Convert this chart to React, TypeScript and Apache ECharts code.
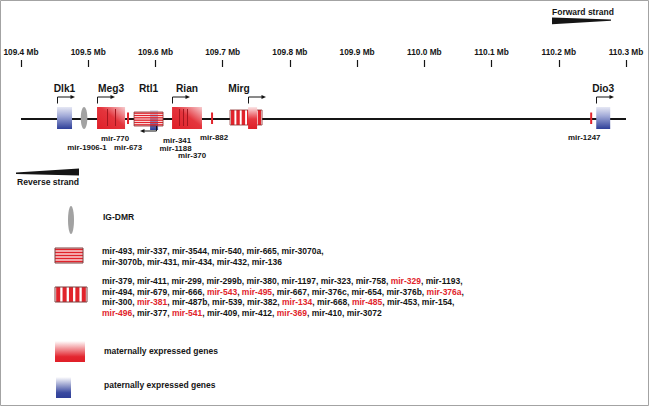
import { useEffect, useRef } from 'react';
import * as echarts from 'echarts';

// ---------- data ----------
const axisMin = 109.4;
const axisMax = 110.3;
const axisStep = 0.1;

const geneNames = ['Dlk1', 'Meg3', 'Rtl1', 'Rian', 'Mirg', 'Dio3'];
const geneStart = [109.4536, 109.5131, 109.5682, 109.6247, 109.711, 110.2557];
const geneEnd = [109.4759, 109.5548, 109.6113, 109.6693, 109.7586, 110.2765];
const geneKind = ['paternal', 'maternal', 'clusterH', 'maternal', 'clusterV', 'paternal'];
const geneStrand = ['+', '+', '-', '+', '+', '+'];
const geneCoreStart = [null, null, 109.592, null, 109.7378, null];
const geneCoreEnd = [null, null, 109.6039, null, 109.7512, null];
const geneMirMarks = [[], [109.528, 109.540], [], [109.6351, 109.6411, 109.647], [], []];

const dmrPos = 109.4938;

const mirTickNames = ['mir-673', 'mir-882', 'mir-1247'];
const mirTickPos = [109.5592, 109.6842, 110.2482];

const mirLabelNames = ['mir-770', 'mir-1906-1', 'mir-673', 'mir-341', 'mir-1188', 'mir-370', 'mir-882', 'mir-1247'];
const mirLabelPos = [109.5399, 109.4982, 109.5592, 109.6321, 109.6299, 109.6545, 109.6872, 110.2378];

const clusterHMirs = ['mir-493', 'mir-337', 'mir-3544', 'mir-540', 'mir-665', 'mir-3070a', 'mir-3070b', 'mir-431', 'mir-434', 'mir-432', 'mir-136'];
const clusterVMirs = [
  'mir-379', 'mir-411', 'mir-299', 'mir-299b', 'mir-380', 'mir-1197', 'mir-323', 'mir-758', 'mir-329', 'mir-1193',
  'mir-494', 'mir-679', 'mir-666', 'mir-543', 'mir-495', 'mir-667', 'mir-376c', 'mir-654', 'mir-376b', 'mir-376a',
  'mir-300', 'mir-381', 'mir-487b', 'mir-539', 'mir-382', 'mir-134', 'mir-668', 'mir-485', 'mir-453', 'mir-154',
  'mir-496', 'mir-377', 'mir-541', 'mir-409', 'mir-412', 'mir-369', 'mir-410', 'mir-3072',
];
const highlightedMirs = ['mir-329', 'mir-543', 'mir-495', 'mir-376a', 'mir-381', 'mir-134', 'mir-485', 'mir-496', 'mir-541', 'mir-369'];
const legendLabels = ['IG-DMR', 'maternally expressed genes', 'paternally expressed genes'];
const strandLabels = ['Forward strand', 'Reverse strand'];

// ---------- layout / style ----------
const clusterHLineSizes = [6, 5];
const clusterVLineSizes = [10, 10, 10, 8];
const geneLabelDx = [0, 0, 0, 0, -7, 0];
const mirLabelRow = [138, 147, 147, 140.5, 148, 155.5, 137, 137];

const FONT = '"Liberation Sans", Arial, Helvetica, sans-serif';
const INK = '#151515';
const RED = '#e1232b';
const DARK_RED = '#a5161e';
const BORDER_RED = '#8a2e2e';
const LINE_Y = 119;
const GENE_TOP = 107;
const GENE_BOT = 129;

const matGrad = () =>
  new echarts.graphic.LinearGradient(0, 1, 1, 0, [
    { offset: 0, color: '#df1f28' },
    { offset: 0.55, color: '#e4353d' },
    { offset: 1, color: '#f7cdd0' },
  ]);
const matGradV = () =>
  new echarts.graphic.LinearGradient(0, 0, 0, 1, [
    { offset: 0, color: '#fbe6e7' },
    { offset: 0.55, color: '#e6363e' },
    { offset: 1, color: '#dd1e27' },
  ]);
const patGrad = () =>
  new echarts.graphic.LinearGradient(0, 0, 0, 1, [
    { offset: 0, color: '#e6e8f4' },
    { offset: 0.4, color: '#a3abd8' },
    { offset: 1, color: '#2e3f99' },
  ]);

function hStripes(x: number, y: number, w: number, h: number, n: number, color: string) {
  const p = h / n;
  const out: any[] = [];
  for (let k = 0; k < n; k++) {
    out.push({ type: 'rect', shape: { x, y: y + k * p + p * 0.2, width: w, height: p * 0.6 }, style: { fill: color } });
  }
  return out;
}
function vStripes(x: number, y: number, w: number, h: number, n: number, color: string) {
  const p = w / n;
  const out: any[] = [];
  for (let k = 0; k < n; k++) {
    out.push({ type: 'rect', shape: { x: x + k * p + p * 0.18, y, width: p * 0.64, height: h }, style: { fill: color } });
  }
  return out;
}

function richLines(names: string[], sizes: number[]) {
  const red = new Set(highlightedMirs);
  const lines: string[] = [];
  let idx = 0;
  sizes.forEach((s, li) => {
    const part = names.slice(idx, idx + s);
    idx += s;
    const toks = part.map((n) => (red.has(n) ? `{r|${n}}` : `{k|${n}}`));
    let line = toks.join('{k|, }');
    if (li < sizes.length - 1) line += '{k|,}';
    lines.push(line);
  });
  return lines.join('\n');
}

export default function App() {
  const ref = useRef<HTMLDivElement>(null);

  useEffect(() => {
    const chart = echarts.init(ref.current!, null, { renderer: 'svg' });
    const txt = (size: number) => ({ fontSize: size, fontWeight: 'bold', fontFamily: FONT, fill: INK });

    const richStyle = (lh: number) => ({
      k: { fontSize: 8.5, fontWeight: 'bold', fontFamily: FONT, fill: INK, lineHeight: lh },
      r: { fontSize: 8.5, fontWeight: 'bold', fontFamily: FONT, fill: RED, lineHeight: lh },
    });

    const option: any = {
      animation: false,
      backgroundColor: '#ffffff',
      grid: { left: 21, right: 23, top: 67, bottom: 10, outerBoundsMode: 'none' },
      xAxis: {
        type: 'value',
        position: 'top',
        min: axisMin,
        max: axisMax,
        interval: axisStep,
        axisLine: { show: false, onZero: false },
        splitLine: { show: false },
        axisTick: { show: true, length: 7, lineStyle: { color: INK, width: 1.2 } },
        axisLabel: {
          margin: 11,
          showMinLabel: true,
          showMaxLabel: true,
          formatter: (v: number) => v.toFixed(1) + ' Mb',
          fontSize: 8.3,
          fontWeight: 'bold',
          fontFamily: FONT,
          color: INK,
        },
      },
      yAxis: { type: 'value', min: 0, max: 10, show: false },
      series: [
        {
          type: 'custom',
          name: 'chromosome',
          z: 1,
          clip: false,
          encode: { x: [0, 1], y: 2 },
          data: [[axisMin, axisMax, 0]],
          renderItem: (_p: any, api: any) => {
            const x0 = api.coord([api.value(0), 0])[0];
            const x1 = api.coord([api.value(1), 0])[0];
            return { type: 'line', shape: { x1: x0, y1: LINE_Y, x2: x1, y2: LINE_Y }, style: { stroke: INK, lineWidth: 2 } };
          },
        },
        {
          type: 'custom',
          name: 'IG-DMR',
          z: 2,
          clip: false,
          encode: { x: [0, 1], y: 2 },
          data: [[dmrPos, dmrPos, 0]],
          renderItem: (_p: any, api: any) => {
            const cx = api.coord([api.value(0), 0])[0];
            return { type: 'ellipse', shape: { cx, cy: LINE_Y - 1, rx: 3.3, ry: 11 }, style: { fill: '#a2a2a2' } };
          },
        },
        {
          type: 'custom',
          name: 'miRNA',
          z: 2,
          clip: false,
          encode: { x: [0, 1], y: 2 },
          data: mirTickNames.map((_n, i) => [mirTickPos[i], mirTickPos[i], i]),
          renderItem: (_p: any, api: any) => {
            const x = api.coord([api.value(0), 0])[0];
            return { type: 'rect', shape: { x: x - 1, y: 112.5, width: 2, height: 11.5 }, style: { fill: RED } };
          },
        },
        {
          type: 'custom',
          name: 'genes',
          z: 3,
          clip: false,
          encode: { x: [0, 1], y: 2 },
          data: geneNames.map((_n, i) => [geneStart[i], geneEnd[i], i]),
          renderItem: (_p: any, api: any) => {
            const i = api.value(2) as number;
            const cx = (v: number) => api.coord([v, 0])[0];
            const x0 = cx(api.value(0));
            const x1 = cx(api.value(1));
            const w = x1 - x0;
            const kind = geneKind[i];
            const ch: any[] = [];
            if (kind === 'maternal' || kind === 'paternal') {
              ch.push({
                type: 'rect',
                shape: { x: x0, y: GENE_TOP, width: w, height: GENE_BOT - GENE_TOP },
                style: { fill: kind === 'maternal' ? matGrad() : patGrad() },
              });
              geneMirMarks[i].forEach((m) => {
                const mx = Math.round(cx(m)) + 0.5;
                ch.push({ type: 'line', shape: { x1: mx, y1: 109, x2: mx, y2: 126 }, style: { stroke: DARK_RED, lineWidth: 1 } });
              });
            } else if (kind === 'clusterH') {
              const top = 112;
              const h = 14;
              ch.push({ type: 'rect', shape: { x: x0, y: top, width: w, height: h }, style: { fill: '#ffffff' } });
              const c0 = cx(geneCoreStart[i] as number);
              const c1 = cx(geneCoreEnd[i] as number);
              ch.push({ type: 'rect', shape: { x: c0, y: 110, width: c1 - c0, height: 20 }, style: { fill: patGrad() } });
              ch.push(...hStripes(x0, top, w, h, 6, RED));
              ch.push({ type: 'rect', shape: { x: x0, y: top, width: w, height: h }, style: { fill: 'none', stroke: BORDER_RED, lineWidth: 0.8 } });
            } else if (kind === 'clusterV') {
              const top = 110;
              const h = 15;
              ch.push({ type: 'rect', shape: { x: x0, y: top, width: w, height: h }, style: { fill: '#ffffff' } });
              ch.push(...vStripes(x0, top, w, h, 6, RED));
              ch.push({ type: 'rect', shape: { x: x0, y: top, width: w, height: h }, style: { fill: 'none', stroke: BORDER_RED, lineWidth: 0.8 } });
              const c0 = cx(geneCoreStart[i] as number);
              const c1 = cx(geneCoreEnd[i] as number);
              ch.push({ type: 'rect', shape: { x: c0, y: GENE_TOP, width: c1 - c0, height: GENE_BOT - GENE_TOP }, style: { fill: matGradV() } });
            }
            // transcription arrow
            if (geneStrand[i] === '+') {
              const ax = Math.round(geneCoreStart[i] != null ? cx(geneCoreStart[i] as number) : x0) + 0.5;
              ch.push({ type: 'polyline', shape: { points: [[ax, 103.5], [ax, 97], [ax + 14, 97]] }, style: { stroke: INK, lineWidth: 1, fill: 'none' } });
              ch.push({ type: 'polygon', shape: { points: [[ax + 13, 95], [ax + 17.5, 97], [ax + 13, 99]] }, style: { fill: INK } });
            } else {
              const ax = Math.round(cx(geneCoreEnd[i] as number)) - 1.5;
              ch.push({ type: 'polyline', shape: { points: [[ax, 126], [ax, 131], [ax - 13, 131]] }, style: { stroke: INK, lineWidth: 1, fill: 'none' } });
              ch.push({ type: 'polygon', shape: { points: [[ax - 12, 129], [ax - 16.5, 131], [ax - 12, 133]] }, style: { fill: INK } });
            }
            ch.push({
              type: 'text',
              style: { text: geneNames[i], x: (x0 + x1) / 2 + geneLabelDx[i], y: 88, align: 'center', verticalAlign: 'middle', ...txt(10.2) },
            });
            return { type: 'group', children: ch };
          },
        },
        {
          type: 'custom',
          name: 'miRNA labels',
          z: 4,
          clip: false,
          encode: { x: [0, 1], y: 2 },
          data: mirLabelNames.map((_n, i) => [mirLabelPos[i], mirLabelPos[i], i]),
          renderItem: (_p: any, api: any) => {
            const i = api.value(2) as number;
            const x = api.coord([api.value(0), 0])[0];
            return {
              type: 'text',
              style: { text: mirLabelNames[i], x, y: mirLabelRow[i], align: 'center', verticalAlign: 'middle', ...txt(7.9) },
            };
          },
        },
      ],
      graphic: [
        // border
        { type: 'rect', shape: { x: 0.5, y: 0.5, width: 648, height: 405 }, style: { fill: 'none', stroke: '#a3a3a3', lineWidth: 1 }, z: 0 },
        // forward strand
        { type: 'text', x: 552, y: 11.5, style: { text: strandLabels[0], align: 'left', verticalAlign: 'middle', ...txt(8.5) } },
        { type: 'polygon', shape: { points: [[552, 17.5], [611, 19.6], [611, 20.8], [552, 24.3]] }, style: { fill: INK } },
        // reverse strand
        { type: 'polygon', shape: { points: [[16, 172.6], [79, 168.4], [79, 175.6], [16, 174]] }, style: { fill: INK } },
        { type: 'text', x: 17, y: 182, style: { text: strandLabels[1], align: 'left', verticalAlign: 'middle', ...txt(8.6) } },
        // legend: IG-DMR
        { type: 'ellipse', shape: { cx: 71, cy: 220, rx: 3, ry: 14 }, style: { fill: '#a2a2a2' } },
        { type: 'text', x: 103, y: 217, style: { text: legendLabels[0], align: 'left', verticalAlign: 'middle', ...txt(8.5) } },
        // legend: horizontal striped cluster
        {
          type: 'group',
          children: [
            { type: 'rect', shape: { x: 55, y: 248, width: 28, height: 15 }, style: { fill: '#ffffff' } },
            ...hStripes(55, 248, 28, 15, 5, RED),
            { type: 'rect', shape: { x: 55, y: 248, width: 28, height: 15 }, style: { fill: 'none', stroke: '#7d4040', lineWidth: 1 } },
          ],
        },
        {
          type: 'text',
          x: 102,
          y: 245.5,
          style: {
            text: richLines(clusterHMirs, clusterHLineSizes),
            align: 'left',
            verticalAlign: 'top',
            lineHeight: 11,
            rich: richStyle(11),
            ...txt(8.5),
          },
        },
        // legend: vertical striped cluster
        {
          type: 'group',
          children: [
            { type: 'rect', shape: { x: 55, y: 287, width: 32, height: 15 }, style: { fill: '#ffffff' } },
            ...vStripes(55, 287, 32, 15, 5, RED),
            { type: 'rect', shape: { x: 55, y: 287, width: 32, height: 15 }, style: { fill: 'none', stroke: '#7d4040', lineWidth: 1 } },
          ],
        },
        {
          type: 'text',
          x: 102,
          y: 275.75,
          style: {
            text: richLines(clusterVMirs, clusterVLineSizes),
            align: 'left',
            verticalAlign: 'top',
            lineHeight: 10.5,
            rich: richStyle(10.5),
            ...txt(8.5),
          },
        },
        // legend: maternal / paternal
        {
          type: 'rect',
          shape: { x: 55, y: 341, width: 30, height: 21 },
          style: {
            fill: new echarts.graphic.LinearGradient(0, 0, 0, 1, [
              { offset: 0, color: '#ffffff' },
              { offset: 0.75, color: '#e3262f' },
              { offset: 1, color: '#e01f28' },
            ]),
          },
        },
        { type: 'text', x: 104, y: 351, style: { text: legendLabels[1], align: 'left', verticalAlign: 'middle', ...txt(8.5) } },
        {
          type: 'rect',
          shape: { x: 56, y: 377, width: 15, height: 21 },
          style: {
            fill: new echarts.graphic.LinearGradient(0, 0, 0, 1, [
              { offset: 0, color: '#ffffff' },
              { offset: 0.75, color: '#3a4aa0' },
              { offset: 1, color: '#2f3f98' },
            ]),
          },
        },
        { type: 'text', x: 104, y: 385, style: { text: legendLabels[2], align: 'left', verticalAlign: 'middle', ...txt(8.5) } },
      ],
    };

    chart.setOption(option);
    return () => chart.dispose();
  }, []);

  return <div ref={ref} style={{ position: 'absolute', left: 0, top: 0, width: 649, height: 406, background: '#fff' }} />;
}
